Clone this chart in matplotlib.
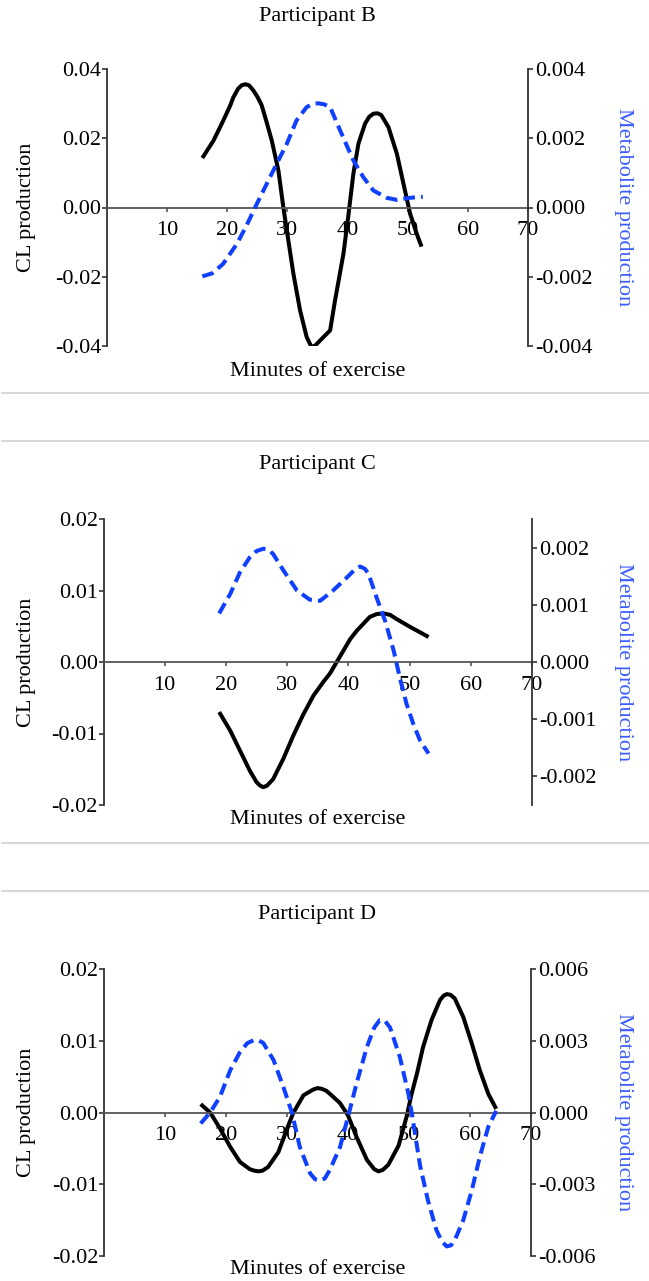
import matplotlib.pyplot as plt
from matplotlib.lines import Line2D
from matplotlib.ticker import FormatStrFormatter

plt.rcParams['font.family'] = ['Liberation Serif', 'DejaVu Serif']
plt.rcParams['axes.unicode_minus'] = False

# Participant B
b_min_cl = [15.85, 17.7, 19.3, 20.45, 21.0, 21.8, 22.4, 23.0, 23.6, 24.3, 25.0, 25.7,
            26.55, 27.4, 28.5, 29.3, 30.15, 31.0, 32.1, 33.2, 34.0, 34.6, 36.0, 37.1,
            37.9, 39.3, 40.1, 40.96, 41.8, 42.9, 43.6, 44.3, 45.0, 45.6, 46.8, 48.2,
            49.3, 50.4, 51.5, 52.3]
b_cl = [0.0143, 0.0193, 0.0250, 0.0293, 0.0318, 0.0343, 0.0353, 0.0356, 0.0353, 0.0339,
        0.0320, 0.0296, 0.0246, 0.0193, 0.0107, 0.0003, -0.0095, -0.0192, -0.0297,
        -0.0374, -0.0403, -0.0399, -0.0374, -0.0355, -0.0270, -0.0135, -0.0028, 0.0097,
        0.0184, 0.0242, 0.0262, 0.0271, 0.0272, 0.0267, 0.0232, 0.0155, 0.0068, -0.0018,
        -0.0076, -0.0113]
b_min_met = [15.85, 17.5, 19.3, 21.6, 23.2, 24.9, 26.55, 28.2, 29.9, 31.5, 33.2, 34.2,
             35.1, 36.1, 37.1, 38.7, 40.96, 42.6, 44.3, 46.5, 48.2, 50.4, 52.5]
b_met = [-0.00199, -0.0019, -0.00163, -0.00105, -0.00052, 0.0001, 0.00068, 0.00126,
         0.00184, 0.00251, 0.0029, 0.00299, 0.00301, 0.00298, 0.0029, 0.00225, 0.00136,
         0.00088, 0.00049, 0.00028, 0.00022, 0.00028, 0.00031]

# Participant C
c_min_cl = [18.9, 20.7, 22.3, 23.9, 25.0, 25.6, 26.1, 26.7, 27.7, 29.4, 31.0, 32.6,
            34.3, 35.9, 37.0, 38.1, 39.2, 40.3, 41.4, 43.5, 44.6, 45.7, 46.8, 47.9,
            50.1, 53.1]
c_cl = [-0.0070, -0.0096, -0.0124, -0.0152, -0.0168, -0.0173, -0.0175, -0.0173, -0.0164,
        -0.0135, -0.0103, -0.0074, -0.0047, -0.0028, -0.0016, 0.0, 0.0016, 0.0032,
        0.0044, 0.0063, 0.0067, 0.0068, 0.0066, 0.0060, 0.0049, 0.0035]
c_min_met = [18.9, 20.7, 22.3, 23.9, 25.0, 26.1, 27.0, 27.7, 29.4, 31.6, 33.7, 35.4,
             37.5, 39.5, 41.0, 41.9, 42.7, 43.3, 44.6, 46.0, 47.4, 48.4, 49.5, 50.6,
             51.7, 53.1]
c_met = [0.00085, 0.00119, 0.00157, 0.00183, 0.00194, 0.00198, 0.00196, 0.00189, 0.0016,
         0.00125, 0.00109, 0.00107, 0.00125, 0.00145, 0.00161, 0.00167, 0.00163, 0.00154,
         0.00113, 0.00072, 0.0002, -0.00027, -0.00073, -0.00108, -0.00137, -0.0016]

# Participant D
d_min_cl = [15.85, 17.4, 19.0, 20.7, 22.3, 23.9, 24.6, 25.3, 26.0, 26.9, 28.6, 29.9,
            31.0, 32.7, 34.3, 35.0, 35.7, 36.5, 37.3, 38.7, 40.0, 41.4, 43.1, 44.3,
            45.0, 45.7, 46.6, 48.3, 49.6, 50.4, 51.3, 52.3, 53.7, 55.1, 55.7, 56.2,
            56.8, 57.5, 58.9, 60.3, 61.6, 63.0, 64.3]
d_cl = [0.00116, 0.0, -0.0022, -0.0048, -0.0069, -0.0079, -0.0081, -0.0082, -0.0081,
        -0.0076, -0.0055, -0.0025, -0.0001, 0.0024, 0.0032, 0.0034, 0.0033, 0.0030,
        0.0024, 0.0013, -0.0004, -0.0034, -0.0066, -0.0079, -0.0082, -0.0080, -0.0073,
        -0.0046, -0.0006, 0.0025, 0.0054, 0.0091, 0.0129, 0.0157, 0.0163, 0.0165,
        0.0164, 0.0159, 0.0133, 0.0096, 0.0059, 0.0026, 0.0005]
d_min_met = [15.85, 17.4, 19.0, 20.7, 22.3, 23.5, 24.5, 25.3, 26.1, 27.8, 29.4, 30.8,
             32.1, 33.8, 34.6, 35.4, 36.2, 37.0, 38.7, 40.0, 41.4, 43.1, 44.3, 45.2,
             46.0, 46.9, 48.5, 49.9, 50.5, 51.8, 53.1, 54.5, 55.4, 56.2, 56.9, 57.5,
             58.9, 60.3, 61.6, 63.0, 64.3]
d_met = [-0.00046, 0.0, 0.00065, 0.00177, 0.00253, 0.00290, 0.00302, 0.00302, 0.00291,
         0.00219, 0.00107, 0.0, -0.00144, -0.00255, -0.00279, -0.00285, -0.00276,
         -0.00241, -0.00144, -0.00018, 0.00121, 0.00274, 0.00355, 0.00386, 0.00385,
         0.00355, 0.00232, 0.00079, -0.0001, -0.0022, -0.00367, -0.00492, -0.00540,
         -0.00560, -0.00555, -0.00534, -0.0045, -0.00325, -0.00186, -0.0006, 0.00007]

titles = ["Participant B", "Participant C", "Participant D"]
x_ticks = [10, 20, 30, 40, 50, 60, 70]
cl_ticks = [[-0.04, -0.02, 0.0, 0.02, 0.04],
            [-0.02, -0.01, 0.0, 0.01, 0.02],
            [-0.02, -0.01, 0.0, 0.01, 0.02]]
met_ticks = [[-0.004, -0.002, 0.0, 0.002, 0.004],
             [-0.002, -0.001, 0.0, 0.001, 0.002],
             [-0.006, -0.003, 0.0, 0.003, 0.006]]
cl_lims = [0.04, 0.02, 0.02]
met_lims = [0.004, 0.0025, 0.006]

W, H = 649, 1281
fig = plt.figure(figsize=(W / 100, H / 100), dpi=100)

# pixel boxes: left, right, top, bottom of plotting area; title row, xlabel row
boxes = [(107, 528, 69, 346, 16, 371),
         (103.5, 532, 519, 805, 465, 820),
         (104, 531, 969, 1256, 915, 1270)]

series = [(b_min_cl, b_cl, b_min_met, b_met),
          (c_min_cl, c_cl, c_min_met, c_met),
          (d_min_cl, d_cl, d_min_met, d_met)]

blue = '#0f3fff'
spine_col = '#333333'
fs = 16

for i in range(3):
    l, r, t, b, ty, xy = boxes[i]
    ax = fig.add_axes([l / W, 1 - b / H, (r - l) / W, (b - t) / H])
    ax2 = ax.twinx()
    mx, cl, mm, met = series[i]

    ax.plot(mx, cl, color='black', lw=2.9, solid_capstyle='butt', solid_joinstyle='round')
    ax2.plot(mm, met, color=blue, lw=2.9, linestyle=(0, (2.9, 1.5)))

    ax.set_xlim(0, 70)
    ax.set_ylim(-cl_lims[i], cl_lims[i])
    ax2.set_ylim(-met_lims[i], met_lims[i])
    ax.set_xticks(x_ticks)
    ax.set_yticks(cl_ticks[i])
    ax2.set_yticks(met_ticks[i])
    ax.yaxis.set_major_formatter(FormatStrFormatter('%.2f'))
    ax2.yaxis.set_major_formatter(FormatStrFormatter('%.3f'))

    for s in ['top', 'right']:
        ax.spines[s].set_visible(False)
    for s in ['top', 'left', 'bottom']:
        ax2.spines[s].set_visible(False)
    ax.spines['bottom'].set_position(('data', 0))
    ax.spines['bottom'].set_color('#555555')
    ax.spines['left'].set_color(spine_col)
    ax2.spines['right'].set_color(spine_col)
    for sp in [ax.spines['bottom'], ax.spines['left'], ax2.spines['right']]:
        sp.set_linewidth(1.3)

    ax.tick_params(axis='x', direction='out', length=3, width=1.2, pad=7,
                   labelsize=fs, color='#555555')
    ax.tick_params(axis='y', direction='out', length=3.5, width=1.2, pad=0.5,
                   labelsize=fs, color=spine_col)
    ax2.tick_params(axis='y', direction='out', length=3.5, width=1.2, pad=1.5,
                    labelsize=fs, color=spine_col)

    ax.text(0.5, 1 + (t - ty) / (b - t), titles[i], transform=ax.transAxes,
            ha='center', va='center', fontsize=fs)
    ax.text(0.5, -(xy - b) / (b - t), "Minutes of exercise", transform=ax.transAxes,
            ha='center', va='center', fontsize=fs)
    ax.text((26 - l) / (r - l), 0.5, "CL production", transform=ax.transAxes,
            ha='center', va='center', rotation=90, fontsize=fs)
    ax.text((624 - l) / (r - l), 0.5, "Metabolite production", transform=ax.transAxes,
            ha='center', va='center', rotation=270, fontsize=fs, color='#3a5cff')

# light separators between the panels
for yy in [393, 441, 843, 891]:
    fig.add_artist(Line2D([2 / W, 1], [1 - yy / H, 1 - yy / H], color='#cfcfcf', lw=1.2))

fig.savefig("out.png", dpi=100)
